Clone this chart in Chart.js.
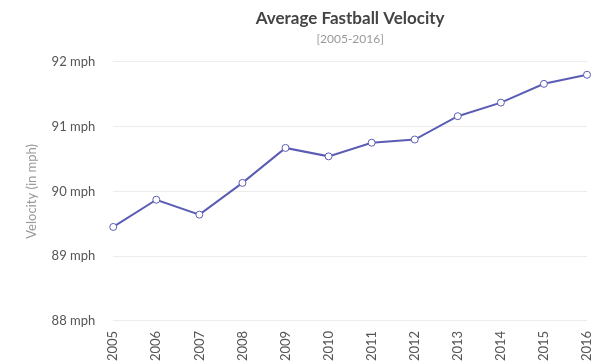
<!DOCTYPE html>
<html>
<head>
<meta charset="utf-8">
<script src="https://cdn.jsdelivr.net/npm/chart.js@4"></script>
<style>
  html, body { margin: 0; padding: 0; background: #fff; overflow: hidden; }
  #wrap { width: 616px; height: 364px; }
</style>
</head>
<body>
<div id="wrap"><canvas id="velocityChart"></canvas></div>
<script>
// data
const years = ["2005", "2006", "2007", "2008", "2009", "2010", "2011", "2012", "2013", "2014", "2015", "2016"];
const velocity = [89.45, 89.87, 89.64, 90.13, 90.67, 90.54, 90.75, 90.80, 91.16, 91.37, 91.66, 91.80];
const yTicks = [88, 89, 90, 91, 92];

const lineColor = "#5b5cb4";

const ctx = document.getElementById("velocityChart").getContext("2d");
new Chart(ctx, {
  type: "line",
  data: {
    labels: years,
    datasets: [
      {
        label: "Velocity",
        data: velocity,
        borderColor: lineColor,
        backgroundColor: "#fff",
        borderWidth: 2,
        tension: 0,
        pointRadius: 3.5,
        pointBorderWidth: 1,
        pointBackgroundColor: "#fff",
        pointBorderColor: lineColor,
      },
    ],
  },
  options: {
    responsive: true,
    maintainAspectRatio: false,
    animation: false,
    layout: { padding: { left: 24, right: 29, top: 8, bottom: -7 } },
    font: { family: "Lato" },
    plugins: {
      legend: { display: false },
      tooltip: { enabled: false },
      title: {
        display: true,
        text: "Average Fastball Velocity",
        fullSize: false,
        color: "#444",
        font: { family: "Lato", size: 17, weight: "bold" },
        padding: { top: 0, bottom: 4 },
      },
      subtitle: {
        display: true,
        text: "[2005-2016]",
        fullSize: false,
        color: "#999",
        font: { family: "Lato", size: 12 },
        padding: { top: 0, bottom: 15 },
      },
    },
    scales: {
      x: {
        offset: false,
        grid: { display: false, drawTicks: false },
        border: { display: false },
        ticks: {
          color: "#555",
          font: { family: "Lato", size: 13 },
          maxRotation: 90,
          minRotation: 90,
          padding: 10,
        },
      },
      y: {
        min: yTicks[0],
        max: yTicks[yTicks.length - 1],
        afterBuildTicks: (axis) => {
          axis.ticks = yTicks.map((v) => ({ value: v }));
        },
        grid: { color: "#ececec", drawTicks: false },
        border: { display: false },
        title: {
          display: true,
          text: "Velocity (in mph)",
          color: "#999",
          font: { family: "Lato", size: 13 },
          padding: { top: 0, bottom: -6 },
        },
        ticks: {
          color: "#555",
          font: { family: "Lato", size: 13 },
          padding: 18,
          callback: (value) => `${value} mph`,
        },
      },
    },
  },
});
</script>
</body>
</html>
